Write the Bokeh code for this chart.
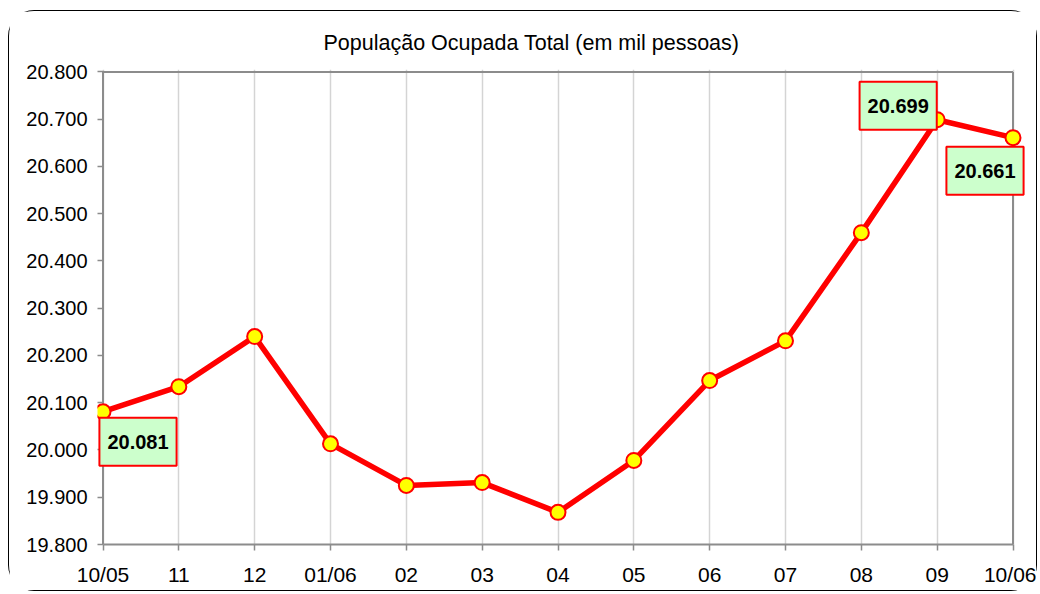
from bokeh.plotting import figure
from bokeh.models import Range1d, FixedTicker, ColumnDataSource, Title, Label
from bokeh.embed import file_html
from bokeh.resources import INLINE

# ---- data ----
months = ["10/05", "11", "12", "01/06", "02", "03", "04", "05", "06", "07", "08", "09", "10/06"]
populacao = [20081, 20134, 20240, 20013, 19925, 19931, 19868, 19978, 20147, 20231, 20460, 20699, 20661]
y_ticks = [19800, 19900, 20000, 20100, 20200, 20300, 20400, 20500, 20600, 20700, 20800]
y_tick_labels = ["19.800", "19.900", "20.000", "20.100", "20.200", "20.300", "20.400", "20.500", "20.600", "20.700", "20.800"]
label_index = [0, 11, 12]
label_text = ["20.081", "20.699", "20.661"]

# ---- styles / layout ----
label_dx = [35, -39, -28]
label_dy = [-30, 14, -33]
FONT = "Liberation Sans"
GRAY = "#8c8c8c"
PLOT_W_PX = 910.0      # pixel width between first and last month
PLOT_H_PX = 473.0      # pixel height between lowest and highest y tick
EXTRA_LEFT_PX = 5.5    # room so that the label boxes are not clipped
EXTRA_RIGHT_PX = 13.5
EXTRA_TOP_PX = 2.5

xs = list(range(len(months)))
x_first, x_last = xs[0], xs[-1]
x_lo = x_first - EXTRA_LEFT_PX * (x_last - x_first) / PLOT_W_PX
x_hi = x_last + EXTRA_RIGHT_PX * (x_last - x_first) / PLOT_W_PX
y_lo, y_top = y_ticks[0], y_ticks[-1]
y_hi = y_top + EXTRA_TOP_PX * (y_top - y_lo) / PLOT_H_PX

p = figure(width=1029, height=581, output_backend="svg", toolbar_location=None,
           x_range=Range1d(x_lo, x_hi), y_range=Range1d(y_lo, y_hi),
           min_border_left=88, min_border_right=12, min_border_top=58, min_border_bottom=48)
p.styles = {"border": "1.5px solid #000000", "border-radius": "26px",
            "margin-left": "8px", "margin-top": "10px"}

p.title = Title(text="População Ocupada Total (em mil pessoas)", align="left",
                text_font=FONT, text_font_size="21.5px", text_font_style="normal",
                text_color="#000000", standoff=30, offset=226)

p.background_fill_color = "white"
p.border_fill_color = "white"
p.outline_line_color = None

# axes
p.xaxis.ticker = FixedTicker(ticks=xs)
p.xaxis.major_label_overrides = {i: m for i, m in zip(xs, months)}
p.xaxis.bounds = (x_first, x_last)
p.xaxis.axis_line_color = GRAY
p.xaxis.axis_line_width = 2
p.xaxis.major_tick_out = 6
p.xaxis.major_tick_in = 0
p.yaxis.ticker = FixedTicker(ticks=y_ticks)
p.yaxis.major_label_overrides = {t: l for t, l in zip(y_ticks, y_tick_labels)}
p.yaxis.axis_line_color = None
p.yaxis.major_tick_out = 0
p.yaxis.major_tick_in = 6
for ax in (p.xaxis, p.yaxis):
    ax.major_tick_line_color = GRAY
    ax.major_tick_line_width = 1.5
    ax.minor_tick_line_color = None
    ax.major_label_text_font = FONT
    ax.major_label_text_color = "#000000"
p.yaxis.major_label_text_font_size = "20px"
p.xaxis.major_label_text_font_size = "21px"
p.yaxis.major_label_standoff = 10
p.xaxis.major_label_standoff = 12

p.xgrid.ticker = FixedTicker(ticks=xs)
p.xgrid.bounds = (y_lo, y_top)
p.xgrid.grid_line_color = "#d4d4d4"
p.xgrid.grid_line_width = 1.5
p.ygrid.grid_line_color = None

# plot-area frame (left, top and right edges)
p.segment(x0=[x_first, x_first, x_last], y0=[y_lo, y_top, y_lo],
          x1=[x_first, x_last, x_last], y1=[y_top, y_top, y_top],
          line_color=GRAY, line_width=2)

src = ColumnDataSource(dict(x=xs, y=populacao))
p.line("x", "y", source=src, line_color="#ff0000", line_width=5.5)
p.scatter("x", "y", source=src, size=15, fill_color="#ffff00", line_color="#ff0000", line_width=2)

for i, t, dx, dy in zip(label_index, label_text, label_dx, label_dy):
    p.add_layout(Label(x=xs[i], y=populacao[i], text=t, x_offset=dx, y_offset=dy,
                       text_font=FONT, text_font_size="20px", text_font_style="bold",
                       text_color="#000000", text_align="center", text_baseline="middle",
                       anchor="center",
                       background_fill_color="#ccffcc", border_line_color="#ff0000",
                       border_line_width=2, padding=(8, 17)))

open("out.html", "w").write(file_html(p, INLINE))
